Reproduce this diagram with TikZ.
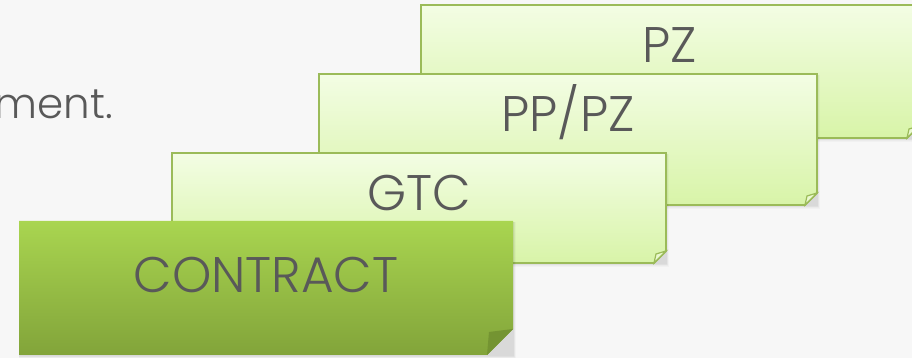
\documentclass[tikz,border=0pt]{standalone}
\usepackage{fontspec}
\IfFontExistsTF{Poppins Light}{\setmainfont{Poppins Light}}{\setmainfont{Poppins}}
\usetikzlibrary{calc}

\definecolor{bggray}{RGB}{247,247,247}
\definecolor{txtgray}{RGB}{89,89,89}
\definecolor{olive}{RGB}{155,187,89}
\definecolor{paletop}{RGB}{243,253,228}
\definecolor{palebot}{RGB}{216,244,168}
\definecolor{deeptop}{RGB}{169,213,80}
\definecolor{deepbot}{RGB}{130,164,58}
\definecolor{flapdeep}{RGB}{116,148,50}

\tikzset{
  cardbox/.style={rectangle, inner sep=0pt, outer sep=0pt, anchor=north west},
  pale/.style={top color=paletop, bottom color=palebot, draw=olive, line width=1.8pt, line join=miter},
  deep/.style={top color=deeptop, bottom color=deepbot},
  pale flap/.style={fill=palebot!55!white, draw=olive, line width=1.2pt},
  deep flap/.style={fill=flapdeep},
  cardtext/.style={anchor=base, inner sep=0pt, text=txtgray, font=\fontsize{50}{60}\selectfont},
}

\begin{document}
\begin{tikzpicture}[x=1pt, y=1pt]
  \useasboundingbox (0,0) rectangle (912,358);
  \clip (0,0) rectangle (912,358);
  \fill[bggray] (0,0) rectangle (912,358);

  % body text running off the left edge
  \node[anchor=base east, inner sep=0pt, text=txtgray, font=\fontsize{42}{52}\selectfont] (body) at (113,239) {ment.};

  % the stack of note cards, back to front
  \foreach \name/\x/\y/\w/\h/\f/\look/\txt/\drop in {
      pz/421/353/498/133/12/pale/PZ/58,
      pppz/319/284/498/131/12/pale/{PP/PZ}/58,
      gtc/172/205/494/110/12/pale/GTC/58,
      contract/19/137/494/134/26/deep/CONTRACT/72}
  {
    \node[cardbox, minimum width=\w, minimum height=\h] (\name) at (\x,\y) {};
    % soft shadow
    \foreach \k in {1,...,5}
      \fill[black, opacity=0.022]
        ($(\name.north west)+(1-0.3*\k,-1)$) rectangle ($(\name.south east)+(0.6*\k,-0.8*\k)$);
    \path[\look] (\name.north west) -- (\name.north east)
      -- ($(\name.south east)+(0,\f)$) -- ($(\name.south east)+(-\f,0)$)
      -- (\name.south west) -- cycle;
    \path[\look\space flap] ($(\name.south east)+(0,\f)$)
      -- ($(\name.south east)+(-\f+2,\f-3)$)
      -- ($(\name.south east)+(-\f,0)$) -- cycle;
    \node[cardtext] (\name-label) at ($(\name.north)+(0,-\drop)$) {\txt};
  }
\end{tikzpicture}
\end{document}
